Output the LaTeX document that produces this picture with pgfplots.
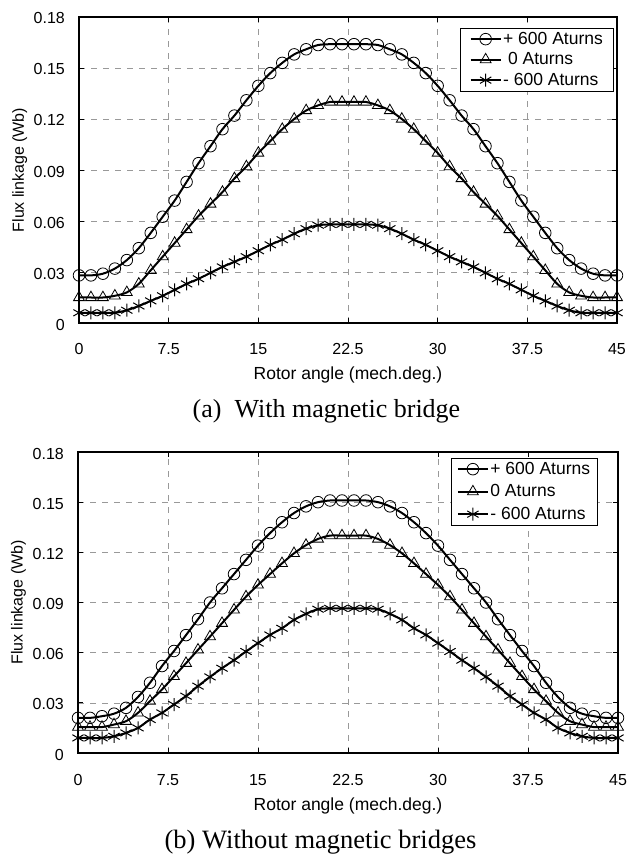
\documentclass[border=0pt]{standalone}
\usepackage{fontspec}
\setmainfont{Liberation Serif}
\newfontfamily\arial{Liberation Sans}
\usepackage{pgfplots}
\pgfplotsset{compat=1.18}

\pgfplotsset{
  fluxax/.style={
    scale only axis,
    xmin=0, xmax=45, ymin=0, ymax=0.18,
    xtick={0,7.5,15,22.5,30,37.5,45},
    xticklabels={0,7.5,15,22.5,30,37.5,45},
    ytick={0,0.03,0.06,0.09,0.12,0.15,0.18},
    yticklabels={0,0.03,0.06,0.09,0.12,0.15,0.18},
    scaled y ticks=false,
    tick align=inside, major tick length=5bp,
    tick style={black, line width=0.8bp},
    axis line style={line width=1.6bp},
    grid=major,
    major grid style={black!40, line width=0.6bp, dash pattern=on 6bp off 6bp},
    ticklabel style={font=\arial\fontsize{16bp}{19bp}\selectfont},
    xticklabel style={anchor=base, yshift=-32bp},
    yticklabel style={anchor=east, inner sep=0pt, xshift=-14bp, yshift=-1.5bp},
    xlabel={Rotor angle (mech.deg.)},
    ylabel={Flux linkage (Wb)},
    xlabel style={at={(axis description cs:0.5,0)}, anchor=base, yshift=-57bp,
      font=\arial\fontsize{17.5bp}{20bp}\selectfont},
    ylabel style={at={(axis description cs:-0.110,0.5)}, anchor=center,
      font=\arial\fontsize{16bp}{19bp}\selectfont},
    legend style={font=\arial\fontsize{17.5bp}{20bp}\selectfont, draw=black,
      line width=0.8bp, inner xsep=9bp, inner ysep=2bp,
      nodes={inner sep=1.5bp, text height=12.5bp, text depth=2bp},
      row sep=3bp, cells={anchor=west}},
    legend image code/.code={%
      \draw[mark repeat=2, mark phase=2] plot coordinates {(0bp,0bp) (15bp,0bp) (30bp,0bp)};},
    every axis plot/.append style={black, line width=2bp, smooth,
      mark options={solid, line width=0.8bp}},
  },
  pos/.style={mark=o, mark size=5.8bp},
  zer/.style={mark=triangle, mark size=6.3bp},
  neg/.style={mark=asterisk, mark size=6.5bp, mark options={solid, line width=1bp}},
}

\begin{document}
\begin{tikzpicture}
\useasboundingbox (0,0) rectangle (638bp,858bp);

% ---------------- (a) With magnetic bridge ----------------
\begin{axis}[fluxax, width=538bp, height=306bp, at={(79bp,535bp)}, anchor=south west,
  legend style={at={(0.994,0.964)}, anchor=north east}]
\addplot[pos] coordinates {(0,0.028)(1,0.028)(2,0.029)(3,0.032)(4,0.037)(5,0.044)(6,0.053)(7,0.0625)(8,0.072)(9,0.083)(10,0.094)(11,0.104)(12,0.114)(13,0.122)(14,0.131)(15,0.1395)(16,0.147)(17,0.153)(18,0.158)(19,0.161)(20,0.1635)(21,0.164)(22,0.164)(23,0.164)(24,0.164)(25,0.1635)(26,0.161)(27,0.158)(28,0.153)(29,0.147)(30,0.1395)(31,0.131)(32,0.122)(33,0.114)(34,0.104)(35,0.094)(36,0.083)(37,0.072)(38,0.0625)(39,0.053)(40,0.044)(41,0.037)(42,0.032)(43,0.029)(44,0.028)(45,0.028)};
\addlegendentry{+ 600 Aturns}
\addplot[zer] coordinates {(0,0.015)(1,0.015)(2,0.015)(3,0.016)(4,0.018)(5,0.023)(6,0.031)(7,0.039)(8,0.047)(9,0.055)(10,0.063)(11,0.070)(12,0.077)(13,0.085)(14,0.092)(15,0.100)(16,0.107)(17,0.114)(18,0.120)(19,0.125)(20,0.128)(21,0.130)(22,0.130)(23,0.130)(24,0.130)(25,0.128)(26,0.125)(27,0.120)(28,0.114)(29,0.107)(30,0.100)(31,0.092)(32,0.085)(33,0.077)(34,0.070)(35,0.063)(36,0.055)(37,0.047)(38,0.039)(39,0.031)(40,0.023)(41,0.018)(42,0.016)(43,0.015)(44,0.015)(45,0.015)};
\addlegendentry{\ 0 Aturns}
\addplot[neg] coordinates {(0,0.006)(1,0.006)(2,0.006)(3,0.006)(4,0.0075)(5,0.010)(6,0.013)(7,0.016)(8,0.0195)(9,0.023)(10,0.026)(11,0.0295)(12,0.033)(13,0.036)(14,0.039)(15,0.0425)(16,0.046)(17,0.049)(18,0.0525)(19,0.0555)(20,0.0575)(21,0.058)(22,0.058)(23,0.058)(24,0.058)(25,0.0575)(26,0.0555)(27,0.0525)(28,0.049)(29,0.046)(30,0.0425)(31,0.039)(32,0.036)(33,0.033)(34,0.0295)(35,0.026)(36,0.023)(37,0.0195)(38,0.016)(39,0.013)(40,0.010)(41,0.0075)(42,0.006)(43,0.006)(44,0.006)(45,0.006)};
\addlegendentry{- 600 Aturns}
\end{axis}

% ---------------- (b) Without magnetic bridges ----------------
\begin{axis}[fluxax, width=540bp, height=301bp, at={(78bp,105bp)}, anchor=south west,
  legend style={at={(0.963,0.980)}, anchor=north east, row sep=5bp, inner xsep=6bp}]
\addplot[pos] coordinates {(0,0.021)(1,0.021)(2,0.022)(3,0.0235)(4,0.027)(5,0.0335)(6,0.042)(7,0.052)(8,0.061)(9,0.0705)(10,0.080)(11,0.090)(12,0.0985)(13,0.107)(14,0.1155)(15,0.124)(16,0.1315)(17,0.138)(18,0.1435)(19,0.1475)(20,0.150)(21,0.151)(22,0.151)(23,0.151)(24,0.151)(25,0.150)(26,0.1475)(27,0.1435)(28,0.138)(29,0.1315)(30,0.124)(31,0.1155)(32,0.107)(33,0.0985)(34,0.090)(35,0.080)(36,0.0705)(37,0.061)(38,0.052)(39,0.042)(40,0.0335)(41,0.027)(42,0.0235)(43,0.022)(44,0.021)(45,0.021)};
\addlegendentry{+ 600 Aturns}
\addplot[zer] coordinates {(0,0.0155)(1,0.0155)(2,0.0155)(3,0.017)(4,0.019)(5,0.024)(6,0.031)(7,0.038)(8,0.0458)(9,0.0537)(10,0.0617)(11,0.0696)(12,0.0776)(13,0.0856)(14,0.0935)(15,0.1005)(16,0.107)(17,0.1134)(18,0.1194)(19,0.1243)(20,0.128)(21,0.130)(22,0.130)(23,0.130)(24,0.130)(25,0.128)(26,0.1243)(27,0.1194)(28,0.1134)(29,0.107)(30,0.1005)(31,0.0935)(32,0.0856)(33,0.0776)(34,0.0696)(35,0.0617)(36,0.0537)(37,0.0458)(38,0.038)(39,0.031)(40,0.024)(41,0.019)(42,0.017)(43,0.0155)(44,0.0155)(45,0.0155)};
\addlegendentry{0 Aturns}
\addplot[neg] coordinates {(0,0.009)(1,0.009)(2,0.009)(3,0.010)(4,0.012)(5,0.015)(6,0.020)(7,0.024)(8,0.029)(9,0.034)(10,0.040)(11,0.0455)(12,0.0507)(13,0.0555)(14,0.0607)(15,0.0657)(16,0.0706)(17,0.0746)(18,0.0796)(19,0.0832)(20,0.086)(21,0.0865)(22,0.0865)(23,0.0865)(24,0.0865)(25,0.086)(26,0.0832)(27,0.0796)(28,0.0746)(29,0.0706)(30,0.0657)(31,0.0607)(32,0.0555)(33,0.0507)(34,0.0455)(35,0.040)(36,0.034)(37,0.029)(38,0.024)(39,0.020)(40,0.015)(41,0.012)(42,0.010)(43,0.009)(44,0.009)(45,0.009)};
\addlegendentry{- 600 Aturns}
\end{axis}

% captions
\node[anchor=base, font=\fontsize{26bp}{30bp}\selectfont] at (326.5bp,440bp) {(a)\hspace{13bp}With magnetic bridge};
\node[anchor=base, font=\fontsize{26.5bp}{30bp}\selectfont] at (320.5bp,10bp) {(b) Without magnetic bridges};
\end{tikzpicture}
\end{document}
